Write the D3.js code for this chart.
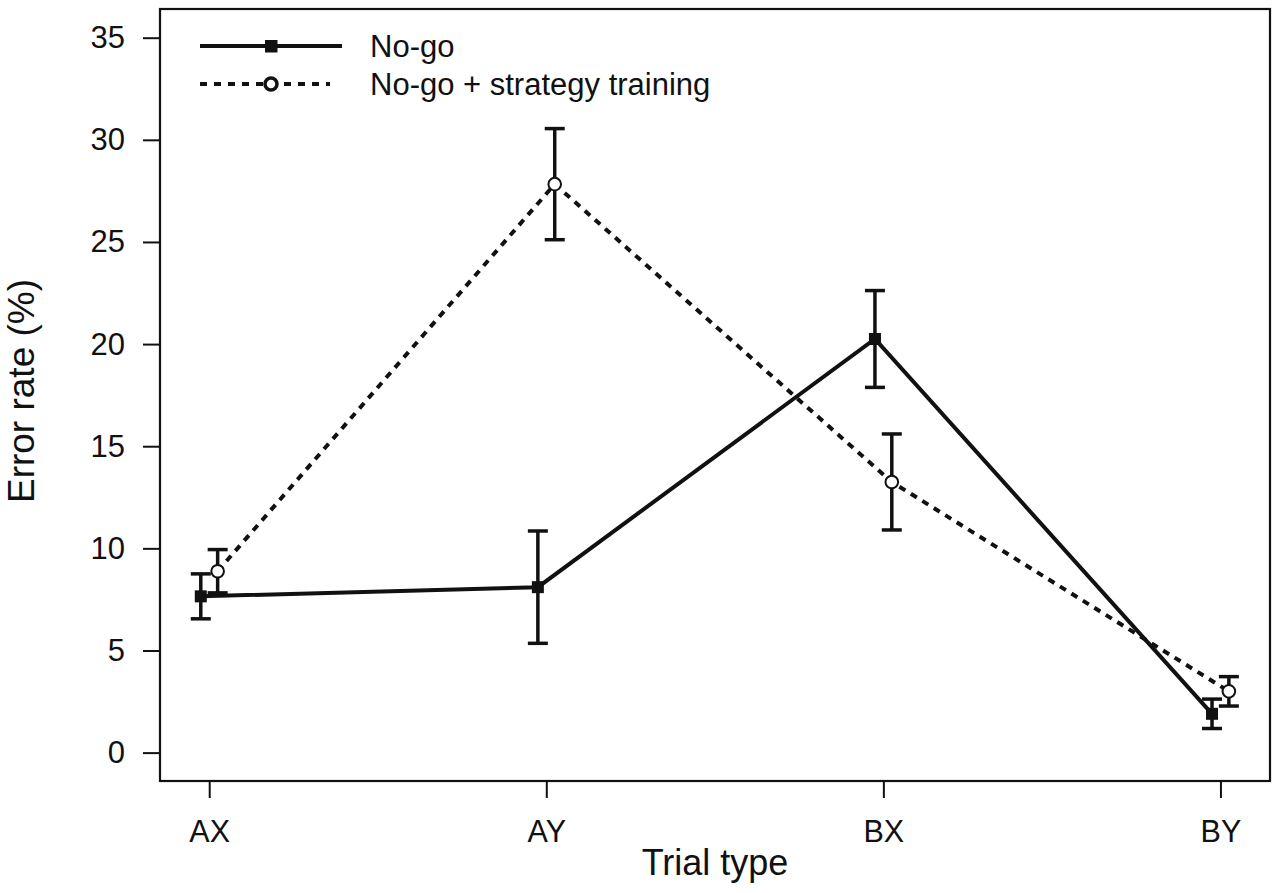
<!DOCTYPE html>
<html>
<head>
<meta charset="utf-8">
<script src="https://cdn.jsdelivr.net/npm/d3@7"></script>
<style>
  body { margin: 0; background: #fff; }
  text { font-family: "Liberation Sans", Arial, sans-serif; fill: #111; }
</style>
</head>
<body>
<script>
// values
const categories = ['AX', 'AY', 'BX', 'BY'];
const nogo = [7.65, 8.1, 20.25, 1.9];
const nogoSE = [1.1, 2.75, 2.37, 0.72];
const strategy = [8.88, 27.83, 13.25, 3.0];
const strategySE = [1.06, 2.72, 2.35, 0.72];
const yTicks = [0, 5, 10, 15, 20, 25, 30, 35];
const seriesNames = ['No-go', 'No-go + strategy training'];

const width = 1280, height = 893;
const box = { left: 160, right: 1270, top: 9, bottom: 781 };
const ink = '#111';

const svg = d3.select('body')
  .append('svg')
  .attr('width', width)
  .attr('height', height);

const xScale = d3.scaleLinear()
  .domain([-0.146, 3.147])
  .range([box.left, box.right]);

const yScale = d3.scaleLinear()
  .domain([-1.39, 36.405])
  .range([box.bottom, box.top]);

const xAxis = d3.axisBottom(xScale)
  .tickValues(d3.range(categories.length))
  .tickFormat(i => categories[i])
  .tickSize(17)
  .tickPadding(22);

const yAxis = d3.axisLeft(yScale)
  .tickValues(yTicks)
  .tickSize(17)
  .tickPadding(18);

const gx = svg.append('g')
  .attr('transform', `translate(0, ${box.bottom})`)
  .call(xAxis);
gx.select('.domain').remove();
gx.selectAll('line').attr('stroke', ink).attr('stroke-width', 2);
gx.selectAll('text').attr('font-size', 30.5).attr('fill', ink);

const gy = svg.append('g')
  .attr('transform', `translate(${box.left}, 0)`)
  .call(yAxis);
gy.select('.domain').remove();
gy.selectAll('line').attr('stroke', ink).attr('stroke-width', 2);
gy.selectAll('text').attr('font-size', 31).attr('fill', ink);

svg.append('rect')
  .attr('x', box.left)
  .attr('y', box.top)
  .attr('width', box.right - box.left)
  .attr('height', box.bottom - box.top)
  .attr('fill', 'none')
  .attr('stroke', ink)
  .attr('stroke-width', 2.2);

// axis titles
svg.append('text')
  .attr('x', (box.left + box.right) / 2)
  .attr('y', 875)
  .attr('text-anchor', 'middle')
  .attr('font-size', 36)
  .text('Trial type');

svg.append('text')
  .attr('transform', `translate(34, 391) rotate(-90)`)
  .attr('text-anchor', 'middle')
  .attr('font-size', 37)
  .text('Error rate (%)');

const series = [
  { values: nogo, se: nogoSE, offset: -0.025, dash: null },
  { values: strategy, se: strategySE, offset: 0.025, dash: '7 6.5' }
];

const line = d3.line()
  .x(d => xScale(d.i + d.offset))
  .y(d => yScale(d.v));

series.forEach(s => {
  const pts = s.values.map((v, i) => ({ v, i, se: s.se[i], offset: s.offset }));
  s.pts = pts;

  svg.append('path')
    .datum(pts)
    .attr('d', line)
    .attr('fill', 'none')
    .attr('stroke', ink)
    .attr('stroke-width', 4)
    .attr('stroke-dasharray', s.dash);

  const bars = svg.append('g')
    .selectAll('g')
    .data(pts)
    .enter()
    .append('g')
    .attr('stroke', ink)
    .attr('stroke-width', 3.5);

  bars.append('line')
    .attr('x1', d => xScale(d.i + d.offset))
    .attr('x2', d => xScale(d.i + d.offset))
    .attr('y1', d => yScale(d.v - d.se))
    .attr('y2', d => yScale(d.v + d.se));

  [-1, 1].forEach(sign => {
    bars.append('line')
      .attr('x1', d => xScale(d.i + d.offset) - 10)
      .attr('x2', d => xScale(d.i + d.offset) + 10)
      .attr('y1', d => yScale(d.v + sign * d.se))
      .attr('y2', d => yScale(d.v + sign * d.se));
  });
});

// markers
svg.append('g')
  .selectAll('rect')
  .data(series[0].pts)
  .enter()
  .append('rect')
  .attr('x', d => xScale(d.i + d.offset) - 6)
  .attr('y', d => yScale(d.v) - 6)
  .attr('width', 12)
  .attr('height', 12)
  .attr('fill', ink);

svg.append('g')
  .selectAll('circle')
  .data(series[1].pts)
  .enter()
  .append('circle')
  .attr('cx', d => xScale(d.i + d.offset))
  .attr('cy', d => yScale(d.v))
  .attr('r', 6.3)
  .attr('fill', '#fff')
  .attr('stroke', ink)
  .attr('stroke-width', 2);

// legend
const legend = svg.append('g');
legend.append('line')
  .attr('x1', 200).attr('x2', 342)
  .attr('y1', 46).attr('y2', 46)
  .attr('stroke', ink).attr('stroke-width', 4);
legend.append('rect')
  .attr('x', 265).attr('y', 40)
  .attr('width', 12.5).attr('height', 12.5)
  .attr('fill', ink);
legend.append('line')
  .attr('x1', 200).attr('x2', 330)
  .attr('y1', 84).attr('y2', 84)
  .attr('stroke', ink).attr('stroke-width', 4)
  .attr('stroke-dasharray', '7 7');
legend.append('circle')
  .attr('cx', 271).attr('cy', 84).attr('r', 6)
  .attr('fill', '#fff')
  .attr('stroke', ink).attr('stroke-width', 3.5);
legend.selectAll('text')
  .data(seriesNames)
  .enter()
  .append('text')
  .attr('x', 370)
  .attr('y', (d, i) => 57 + i * 38)
  .attr('font-size', 31)
  .text(d => d);
</script>
</body>
</html>
